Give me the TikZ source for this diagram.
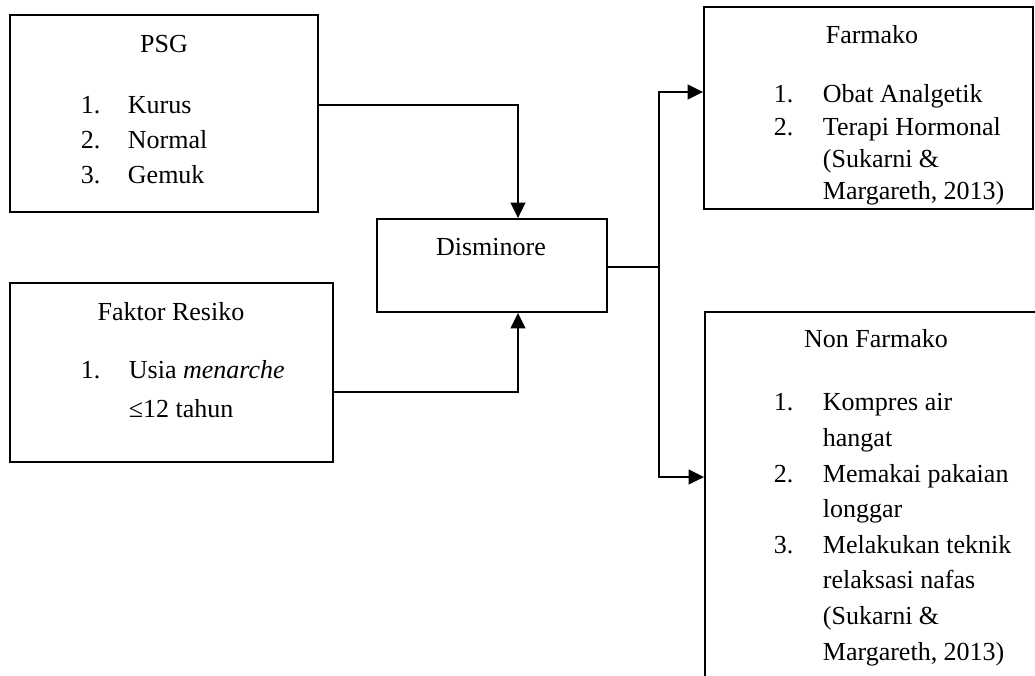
\documentclass[tikz,border=0pt]{standalone}
\usepackage{fontspec}
\setmainfont{Liberation Serif}
\usetikzlibrary{arrows.meta,fit}

\begin{document}
\begin{tikzpicture}[x=0.75pt,y=-0.75pt,line width=1.4pt,>={Triangle[length=11.5pt,width=11pt]},
      every node/.style={inner sep=0pt,font=\fontsize{19.5}{26}\selectfont},
      kotak/.style={draw,rectangle,line width=1.4pt},
      judul/.style={anchor=base},
      isi/.style={anchor=base west}]
      \path[use as bounding box,clip] (0,0) rectangle (1035,675);

      % kotak
      \node[kotak,fit={(10,15)(318,212)}] (psg) {};
      \node[kotak,fit={(10,283)(333,462)}] (faktor) {};
      \node[kotak,fit={(377,219)(607,312)}] (dis) {};
      \node[kotak,fit={(704,7)(1033,209)}] (farmako) {};
      \node[kotak,fit={(705,312)(1080,720)}] (nonfarmako) {};

      % PSG
      \node[judul] (psgj) at (164,52) {PSG};
      \node[isi] (psg1) at (80,113) {1.};
      \node[isi] (psg1t) at (127,113) {Kurus};
      \node[isi] (psg2) at (80,148) {2.};
      \node[isi] (psg2t) at (127,148) {Normal};
      \node[isi] (psg3) at (80,183) {3.};
      \node[isi] (psg3t) at (127,183) {Gemuk};

      % Faktor Resiko
      \node[judul] (faktorj) at (171,320) {Faktor Resiko};
      \node[isi] (faktor1) at (80,378) {1.};
      \node[isi] (faktor1t) at (128,378) {Usia \textit{menarche}};
      \node[isi] (faktor1u) at (128,417) {≤12 tahun};

      % Disminore
      \node[judul] (disj) at (491,255) {Disminore};

      % Farmako
      \node[judul] (farmakoj) at (872,43) {Farmako};
      \node[isi] (farmako1) at (773,102) {1.};
      \node[isi] (farmako1t) at (822,102) {Obat Analgetik};
      \node[isi] (farmako2) at (773,135) {2.};
      \node[isi] (farmako2t) at (822,135) {Terapi Hormonal};
      \node[isi] (farmakos1) at (822,167) {(Sukarni \&};
      \node[isi] (farmakos2) at (822,199) {Margareth, 2013)};

      % Non Farmako
      \node[judul] (nonj) at (876,347) {Non Farmako};
      \node[isi] (non1) at (773,410) {1.};
      \node[isi] (non1t) at (822,410) {Kompres air};
      \node[isi] (non1u) at (822,446) {hangat};
      \node[isi] (non2) at (773,482) {2.};
      \node[isi] (non2t) at (822,482) {Memakai pakaian};
      \node[isi] (non2u) at (822,517) {longgar};
      \node[isi] (non3) at (773,553) {3.};
      \node[isi] (non3t) at (822,553) {Melakukan teknik};
      \node[isi] (non3u) at (822,588) {relaksasi nafas};
      \node[isi] (nons1) at (822,624) {(Sukarni \&};
      \node[isi] (nons2) at (822,660) {Margareth, 2013)};

      % panah
      \draw[->] (psg.east |- 0,105) -| (dis.north -| 518,0);
      \draw[->] (faktor.east |- 0,392) -| (dis.south -| 518,0);
      \draw (dis.east |- 0,267) -- (659,267);
      \draw[<->] (farmako.west |- 0,92) -- (659,92) -- (659,477) -- (nonfarmako.west |- 0,477);
\end{tikzpicture}
\end{document}
